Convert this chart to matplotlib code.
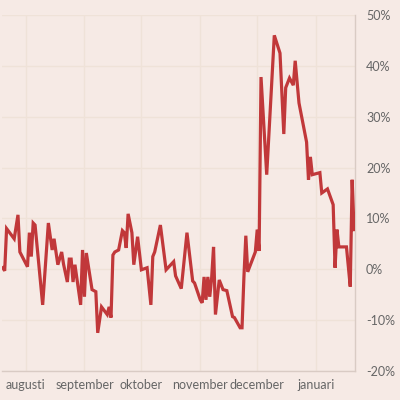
import matplotlib
matplotlib.use("Agg")
import matplotlib.pyplot as plt
import matplotlib.dates as mdates
import matplotlib.ticker as mticker
import pandas as pd

dates = [
    "2015-07-20", "2015-07-21", "2015-07-22", "2015-07-26", "2015-07-28", "2015-07-29",
    "2015-08-02", "2015-08-03", "2015-08-04", "2015-08-05", "2015-08-06", "2015-08-10",
    "2015-08-13", "2015-08-15", "2015-08-16", "2015-08-18", "2015-08-20", "2015-08-21",
    "2015-08-23", "2015-08-24", "2015-08-25", "2015-08-26", "2015-08-27", "2015-08-30",
    "2015-08-31", "2015-09-01", "2015-09-02", "2015-09-05", "2015-09-07", "2015-09-08",
    "2015-09-10", "2015-09-13", "2015-09-14", "2015-09-15", "2015-09-16", "2015-09-17",
    "2015-09-19", "2015-09-21", "2015-09-22", "2015-09-23", "2015-09-24", "2015-09-26",
    "2015-09-27", "2015-09-29", "2015-10-01", "2015-10-04", "2015-10-06", "2015-10-07",
    "2015-10-08", "2015-10-11", "2015-10-14", "2015-10-18", "2015-10-19", "2015-10-22",
    "2015-10-25", "2015-10-28", "2015-10-29", "2015-11-01", "2015-11-02", "2015-11-03",
    "2015-11-04", "2015-11-05", "2015-11-06", "2015-11-07", "2015-11-08", "2015-11-09",
    "2015-11-11", "2015-11-13", "2015-11-15", "2015-11-18", "2015-11-19", "2015-11-22",
    "2015-11-23", "2015-11-24", "2015-11-25", "2015-11-26", "2015-11-30", "2015-12-01",
    "2015-12-02", "2015-12-03", "2015-12-06", "2015-12-10", "2015-12-13", "2015-12-15",
    "2015-12-16", "2015-12-18", "2015-12-20", "2015-12-21", "2015-12-23", "2015-12-27",
    "2015-12-28", "2015-12-29", "2015-12-30", "2016-01-03", "2016-01-04", "2016-01-07",
    "2016-01-10", "2016-01-11", "2016-01-12", "2016-01-13", "2016-01-17", "2016-01-18",
    "2016-01-19", "2016-01-20", "2016-01-21",
]
values = [
    0.3, -0.3, 8.0, 6.0, 10.7, 3.4,
    0.5, 7.2, 2.5, 9.1, 8.7, -7.0,
    9.1, 3.8, 6.0, 0.9, 3.4, 1.0,
    -2.5, 2.0, 2.0, -2.5, 0.9, -7.0,
    3.8, -5.4, 3.2, -4.0, -4.4, -12.5,
    -7.4, -8.9, -7.4, -9.5, 2.8, 3.4,
    3.8, 7.6, 7.2, 4.2, 10.9, 7.2,
    0.9, 6.4, -0.1, 0.3, -7.0, 2.5,
    3.4, 8.7, -0.1, 1.5, -1.3, -3.8,
    7.2, -2.3, -2.7, -6.0, -6.6, -1.5,
    -6.0, -1.5, -5.4, -1.7, 4.4, -8.9,
    -2.1, -4.0, -4.2, -9.3, -9.5, -11.5,
    -11.5, -1.5, 6.6, -0.5, 3.4, 7.8,
    3.6, 37.8, 18.6, 46.0, 42.5, 26.6,
    35.7, 37.6, 36.2, 41.0, 32.7, 25.0,
    17.6, 22.1, 18.6, 19.0, 15.0, 15.8,
    12.7, 0.3, 7.8, 4.4, 4.4, 0.5,
    -3.4, 17.6, 7.8,
]
month_ticks = ["2015-08-01", "2015-09-01", "2015-10-01", "2015-11-01", "2015-12-01", "2016-01-01"]
month_labels = ["augusti", "september", "oktober", "november", "december", "januari"]
y_ticks = [-20, -10, 0, 10, 20, 30, 40, 50]

bg = "#f6eae5"
grid_c = "#efe2d8"
line_c = "#c1383a"
text_c = "#666666"

plt.rcParams['font.family'] = ['Lato', 'DejaVu Sans']

fig = plt.figure(figsize=(4, 4), dpi=100, facecolor=bg)
ax = fig.add_axes([0.005, 0.0725, 0.8825, 0.89])
ax.set_facecolor(bg)

x = pd.to_datetime(dates)
ax.plot(x, values, color=line_c, lw=2.3, solid_joinstyle="miter", zorder=3)

ax.set_ylim(-20, 50)
ax.set_xlim(pd.Timestamp("2015-07-19 14:00"), pd.Timestamp("2016-01-21 12:00"))

ax.set_yticks(y_ticks)
ax.set_yticklabels([f"{v}%" for v in y_ticks])
ax.yaxis.tick_right()
ax.set_xticks(pd.to_datetime(month_ticks))
ax.set_xticklabels(month_labels)

ax.tick_params(axis="both", length=0, colors=text_c, labelsize=9)
ax.tick_params(axis="y", pad=8)
ax.tick_params(axis="x", pad=6)

ax.grid(True, color=grid_c, lw=1, zorder=0)
for s in ["top", "left"]:
    ax.spines[s].set_visible(False)
for s in ["right", "bottom"]:
    ax.spines[s].set_color("#d9cbc4")
    ax.spines[s].set_linewidth(1)

fig.savefig("out.png", dpi=100, facecolor=bg)
